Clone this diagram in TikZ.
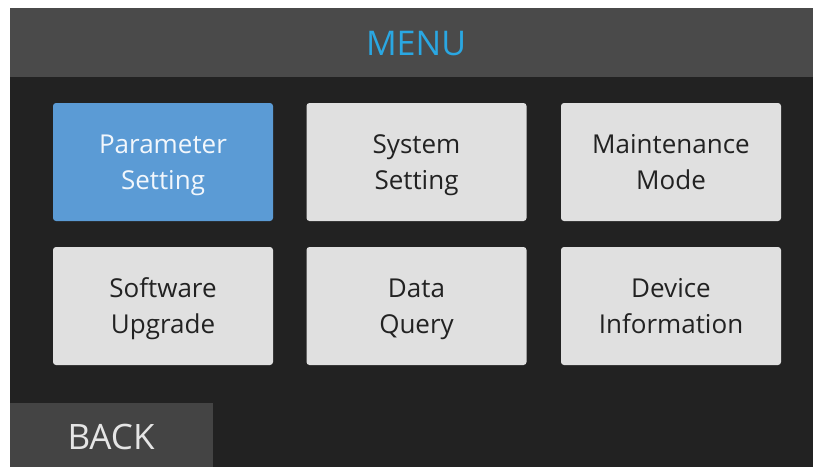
\documentclass[tikz,border=0pt]{standalone}
\usepackage{fontspec}
\setmainfont{Open Sans}
\definecolor{hdr}{HTML}{4A4A4A}
\definecolor{body}{HTML}{222222}
\definecolor{btn}{HTML}{E0E0E0}
\definecolor{sel}{HTML}{5B9BD5}
\definecolor{menublue}{HTML}{2AA7E2}
\definecolor{backbg}{HTML}{444444}
\newcommand{\lbl}[2]{\strut #1\\\strut #2}
\tikzset{
  x=1pt, y=-1pt,
  menubtn/.style={draw=none, fill=btn, rounded corners=3pt, minimum width=220pt, minimum height=118pt,
     text=body, align=center, font=\fontsize{26}{36}\selectfont, inner sep=0pt},
  selbtn/.style={menubtn, fill=sel, text=white!92!sel},
  lblnode/.style={align=center, font=\fontsize{26}{36}\selectfont, inner sep=0pt, text=body},
}
\begin{document}
\begin{tikzpicture}
\useasboundingbox (0,0) rectangle (813,467);
\fill[white] (0,0) rectangle (813,467);
\fill[body] (10,8) rectangle (813,467);
\fill[hdr] (10,8) rectangle (813,77);
\node[text=menublue, font=\fontsize{34}{40}\selectfont] (menu) at (416,44) {MENU};
\node[selbtn] (param) at (163,162) {};
\node[menubtn] (sys) at (416.5,162) {};
\node[menubtn] (maint) at (671,162) {};
\node[menubtn] (soft) at (163,306) {};
\node[menubtn] (data) at (416.5,306) {};
\node[menubtn] (dev) at (671,306) {};
\node[lblnode, text=white!92!sel] at ([yshift=-2pt]param.center) {\lbl{Parameter}{Setting}};
\node[lblnode] at ([yshift=-2pt]sys.center) {\lbl{System}{Setting}};
\node[lblnode] at ([yshift=-2pt]maint.center) {\lbl{Maintenance}{Mode}};
\node[lblnode] at ([yshift=-2pt]soft.center) {\lbl{Software}{Upgrade}};
\node[lblnode] at ([yshift=-2pt]data.center) {\lbl{Data}{Query}};
\node[lblnode] at ([yshift=-2pt]dev.center) {\lbl{Device}{Information}};
\fill[backbg] (10,403) rectangle (213,467);
\node[text=white!90!black, font=\fontsize{35}{40}\selectfont] (back) at (111,437) {BACK};
\end{tikzpicture}
\end{document}
